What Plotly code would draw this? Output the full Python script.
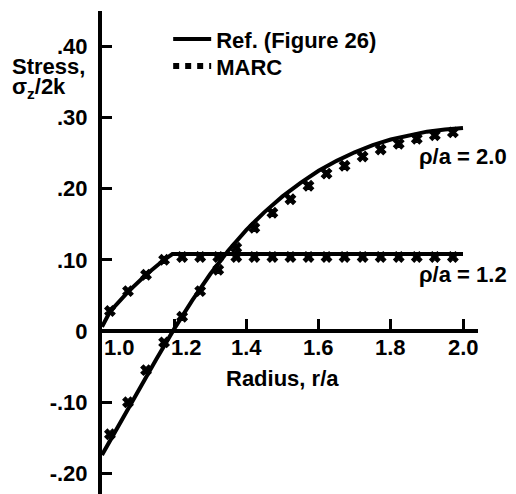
import plotly.graph_objects as go

# ---------------- data ----------------
# Reference solution (Figure 26), rho/a = 2.0
ref20_r = [1.00, 1.05, 1.10, 1.15, 1.20, 1.25, 1.30, 1.35, 1.40, 1.45, 1.50,
           1.55, 1.60, 1.65, 1.70, 1.75, 1.80, 1.85, 1.90, 1.95, 2.00]
ref20_s = [-0.174, -0.129, -0.084, -0.040, 0.003, 0.043, 0.080, 0.113, 0.142,
           0.167, 0.189, 0.208, 0.225, 0.239, 0.251, 0.261, 0.269, 0.275,
           0.280, 0.283, 0.285]

# Reference solution (Figure 26), rho/a = 1.2
ref12_r = [1.00, 1.022, 1.072, 1.122, 1.172, 1.195, 2.00]
ref12_s = [0.006, 0.027, 0.055, 0.079, 0.100, 0.108, 0.108]

# MARC results
marc_r = [1.022, 1.072, 1.122, 1.172, 1.222, 1.272, 1.322, 1.372, 1.422, 1.472,
          1.522, 1.572, 1.622, 1.672, 1.722, 1.772, 1.822, 1.872, 1.922, 1.972]
marc20_s = [-0.145, -0.100, -0.055, -0.016, 0.020, 0.056, 0.086, 0.117, 0.145,
            0.166, 0.185, 0.204, 0.221, 0.232, 0.245, 0.255, 0.263, 0.270,
            0.275, 0.279]
marc12_s = [0.028, 0.056, 0.079, 0.100, 0.104, 0.104, 0.104, 0.104, 0.104,
            0.104, 0.104, 0.104, 0.104, 0.104, 0.104, 0.104, 0.104, 0.104,
            0.104, 0.104]

ytick_vals = [0.40, 0.30, 0.20, 0.10, 0.0, -0.10, -0.20]
ytick_text = [".40", ".30", ".20", ".10", "0", "-.10", "-.20"]
xtick_vals = [1.0, 1.2, 1.4, 1.6, 1.8, 2.0]
xtick_text = ["1.0", "1.2", "1.4", "1.6", "1.8", "2.0"]
xtick_shift = [17, 12, 0, 0, 0, 0]

# ---------------- figure ----------------
W, H = 516, 494
ML, MR, MT, MB = 102, 38, 11, 0
PX_PER_R = 361.0
PX_PER_S = 712.0
ZERO_PIX = 331.0

xmin = 1.0
xmax = 1.0 + (W - ML - MR) / PX_PER_R
ymax = (ZERO_PIX - MT) / PX_PER_S
ymin = -(H - MB - ZERO_PIX) / PX_PER_S

FONT = "Liberation Sans"
FS = 22
black = "#000000"

fig = go.Figure()

fig.add_trace(go.Scatter(x=ref20_r, y=ref20_s, mode="lines",
                         line=dict(color=black, width=4),
                         name="Ref. (Figure 26)", legend="legend"))
fig.add_trace(go.Scatter(x=ref12_r, y=ref12_s, mode="lines",
                         line=dict(color=black, width=4),
                         showlegend=False))
mk = dict(symbol="x", size=9, color=black, line=dict(width=1.2, color=black))
fig.add_trace(go.Scatter(x=marc_r, y=marc20_s, mode="markers", marker=mk,
                         showlegend=False))
fig.add_trace(go.Scatter(x=marc_r, y=marc12_s, mode="markers", marker=mk,
                         showlegend=False))
# legend-only entry for MARC (three square glyphs)
fig.add_trace(go.Scatter(x=[None], y=[None], mode="lines",
                         line=dict(color=black, width=6, dash="6px,6px"),
                         name="MARC", legend="legend2"))

annotations = []
for v, t, s in zip(xtick_vals, xtick_text, xtick_shift):
    annotations.append(dict(x=v, y=0, xref="x", yref="y", text=t,
                            showarrow=False, xanchor="center", yanchor="top",
                            xshift=s, yshift=-2,
                            font=dict(family=FONT, size=FS, color=black,
                                      weight="bold")))

annotations += [
    dict(x=1.5, y=0, xref="x", yref="y", text="Radius, r/a", showarrow=False,
         xanchor="center", yanchor="middle", xshift=0, yshift=-47,
         font=dict(family=FONT, size=FS, color=black, weight="bold")),
    dict(x=0, y=0.372, xref="paper", yref="y", text="Stress,",
         showarrow=False, xanchor="left", yanchor="middle", xshift=-92,
         font=dict(family=FONT, size=FS, color=black, weight="bold")),
    dict(x=0, y=0.341, xref="paper", yref="y", text="σ<sub>z</sub>/2k",
         showarrow=False, xanchor="left", yanchor="middle", xshift=-92,
         font=dict(family=FONT, size=FS, color=black, weight="bold")),
    dict(x=2.0, y=0.245, xref="x", yref="y", text="ρ/a = 2.0",
         showarrow=False, xanchor="center", yanchor="middle",
         font=dict(family=FONT, size=FS, color=black, weight="bold")),
    dict(x=2.0, y=0.079, xref="x", yref="y", text="ρ/a = 1.2",
         showarrow=False, xanchor="center", yanchor="middle",
         font=dict(family=FONT, size=FS, color=black, weight="bold")),
]

legfont = dict(family=FONT, size=FS, color=black, weight="bold")
fig.update_layout(
    width=W, height=H,
    margin=dict(l=ML, r=MR, t=MT, b=MB, pad=0),
    paper_bgcolor="white", plot_bgcolor="white",
    showlegend=True,
    legend=dict(x=0.176, y=0.985, xanchor="left", yanchor="top",
                bgcolor="rgba(0,0,0,0)", borderwidth=0,
                itemwidth=38, font=legfont),
    legend2=dict(x=0.176, y=0.929, xanchor="left", yanchor="top",
                 bgcolor="rgba(0,0,0,0)", borderwidth=0,
                 itemwidth=38, font=legfont),
    xaxis=dict(range=[xmin, xmax], anchor="free",
               position=(0 - ymin) / (ymax - ymin),
               showline=True, linecolor=black, linewidth=4,
               ticks="inside", ticklen=10, tickwidth=3, tickcolor=black,
               tickvals=xtick_vals, showticklabels=False,
               showgrid=False, zeroline=False, fixedrange=True),
    yaxis=dict(range=[ymin, ymax], showline=True, linecolor=black, linewidth=4,
               ticks="inside", ticklen=10, tickwidth=3, tickcolor=black,
               tickvals=ytick_vals, ticktext=ytick_text,
               ticklabelstandoff=6,
               tickfont=dict(family=FONT, size=FS, color=black, weight="bold"),
               showgrid=False, zeroline=False, fixedrange=True),
    annotations=annotations,
)

fig.write_html("out.html")
